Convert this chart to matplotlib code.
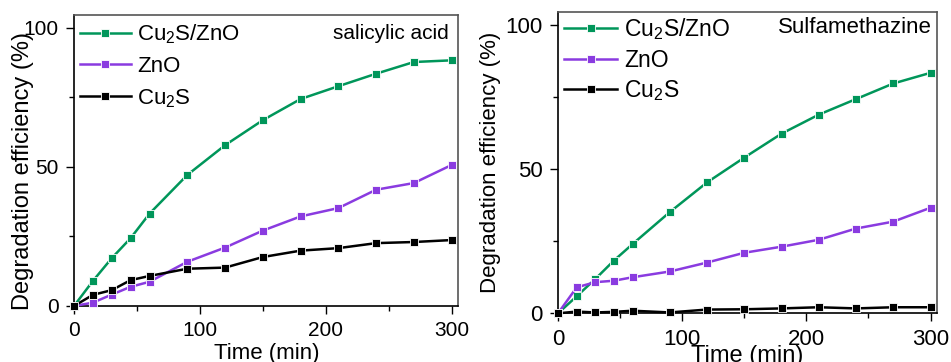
import matplotlib
matplotlib.use('Agg')
import matplotlib.pyplot as plt
from matplotlib.ticker import MultipleLocator

plt.rcParams['font.family'] = ['Liberation Sans', 'DejaVu Sans']
plt.rcParams['mathtext.fontset'] = 'custom'
plt.rcParams['mathtext.rm'] = 'Liberation Sans'

# time points (min)
time = [0, 15, 30, 45, 60, 90, 120, 150, 180, 210, 240, 270, 300]

# salicylic acid
sa_cu2s_zno = [0, 9.0, 17.2, 24.4, 33.2, 47.1, 57.8, 66.8, 74.4, 79.0, 83.5, 87.7, 88.3]
sa_zno = [0, 1.2, 4.1, 6.9, 8.7, 15.9, 21.0, 27.1, 32.2, 35.2, 41.8, 44.2, 50.7]
sa_cu2s = [0, 4.0, 5.7, 9.3, 10.8, 13.4, 13.8, 17.6, 19.9, 20.8, 22.6, 23.0, 23.7]

# sulfamethazine
smz_cu2s_zno = [0, 5.9, 11.9, 18.3, 24.0, 35.1, 45.4, 54.0, 62.3, 68.9, 74.3, 79.7, 83.4]
smz_zno = [0, 9.0, 10.8, 11.3, 12.5, 14.5, 17.6, 21.0, 23.1, 25.5, 29.4, 31.8, 36.6]
smz_cu2s = [0, 0.6, 0.3, 0.5, 0.9, 0.3, 1.3, 1.4, 1.7, 2.1, 1.7, 2.1, 2.1]

labels = ['Cu$_2$S/ZnO', 'ZnO', 'Cu$_2$S']
colors = ['#00965a', '#8a3be0', '#000000']

fig = plt.figure(figsize=(9.51, 3.62), dpi=100)
ax1 = fig.add_axes([0.0778, 0.1547, 0.4038, 0.8039])
ax2 = fig.add_axes([0.5868, 0.1345, 0.3982, 0.8332])


def draw(ax, series, name, fs_tick, fs_ylab, fs_xlab, fs_leg, fs_name,
         ylab_xy, xlab_xy, name_xy, leg_y, leg_sp):
    for ys, lab, c in zip(series, labels, colors):
        ax.plot(time, ys, '-s', color=c, lw=1.8, ms=6, mec='white', mew=0.6,
                label=lab, clip_on=False, zorder=3)
    ax.set_xlim(0, 305)
    ax.set_ylim(0, 104.6)
    ax.xaxis.set_major_locator(MultipleLocator(100))
    ax.xaxis.set_minor_locator(MultipleLocator(50))
    ax.yaxis.set_major_locator(MultipleLocator(50))
    ax.yaxis.set_minor_locator(MultipleLocator(25))
    ax.tick_params(which='major', direction='out', length=6, width=1, labelsize=fs_tick, pad=5)
    ax.tick_params(which='minor', direction='out', length=3.5, width=1)
    for s in ['top', 'right']:
        ax.spines[s].set_color('#555555')
    for s in ax.spines.values():
        s.set_linewidth(1.2)
    ax.set_xlabel('Time (min)', fontsize=fs_xlab)
    ax.set_ylabel('Degradation efficiency (%)', fontsize=fs_ylab, va='center')
    ax.xaxis.set_label_coords(*xlab_xy)
    ax.yaxis.set_label_coords(*ylab_xy)
    ax.text(name_xy[0], name_xy[1], name, transform=ax.transAxes, ha='right', va='center',
            fontsize=fs_name)
    ax.legend(loc='upper left', bbox_to_anchor=(-0.02, leg_y), frameon=False, fontsize=fs_leg,
              handlelength=2.3, handletextpad=0.3, labelspacing=leg_sp, borderaxespad=0.2)


draw(ax1, [sa_cu2s_zno, sa_zno, sa_cu2s], 'salicylic acid',
     15, 17, 16, 16, 15, (-0.133, 0.464), (0.503, -0.127), (0.977, 0.938), 1.02, 0.45)
draw(ax2, [smz_cu2s_zno, smz_zno, smz_cu2s], 'Sulfamethazine',
     16, 16, 17, 16.5, 16, (-0.179, 0.50), (0.50, -0.105), (0.988, 0.949), 1.03, 0.28)

fig.savefig('out.png', dpi=100)
